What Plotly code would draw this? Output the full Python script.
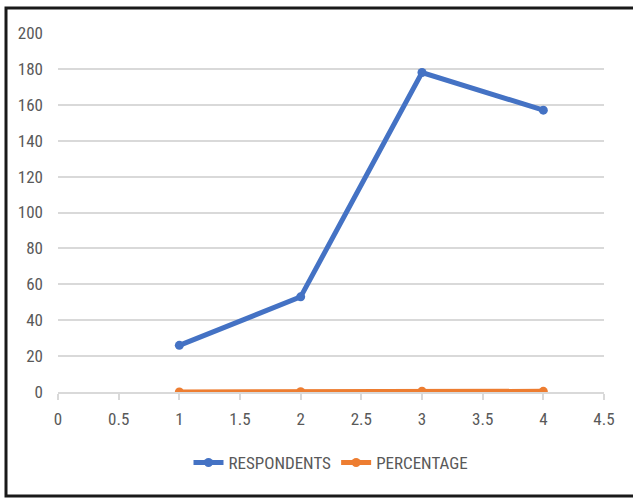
import plotly.graph_objects as go

# Survey series
x_vals = [1, 2, 3, 4]
respondents = [26, 53, 178, 157]
percentage = [0.06, 0.13, 0.43, 0.38]

x_ticks = [0, 0.5, 1, 1.5, 2, 2.5, 3, 3.5, 4, 4.5]
x_tick_text = ["0", "0.5", "1", "1.5", "2", "2.5", "3", "3.5", "4", "4.5"]
y_ticks = [0, 20, 40, 60, 80, 100, 120, 140, 160, 180, 200]

FONT = "Liberation Sans Narrow, Arial Narrow, Roboto Condensed, sans-serif"
GRAY = "#595959"

fig = go.Figure()
fig.add_trace(go.Scatter(
    x=x_vals, y=respondents, name="RESPONDENTS", mode="lines+markers",
    line=dict(color="#4472C4", width=5),
    marker=dict(color="#4472C4", size=9),
))
fig.add_trace(go.Scatter(
    x=x_vals, y=percentage, name="PERCENTAGE", mode="lines+markers",
    line=dict(color="#ED7D31", width=5),
    marker=dict(color="#ED7D31", size=9),
))

L, R, T, B = 58, 29, 33, 107
W, H = 633, 499
pw, ph = W - L - R, H - T - B


def px_x(p):
    return (p - L) / pw


def px_y(p):
    return (H - B - p) / ph


fig.update_layout(
    width=W, height=H,
    margin=dict(l=L, r=R, t=T, b=B),
    paper_bgcolor="white", plot_bgcolor="white",
    font=dict(family=FONT, size=17, color=GRAY),
    showlegend=True,
    legend=dict(
        orientation="h", x=0.5, xanchor="center", y=px_y(463), yanchor="middle",
        font=dict(family=FONT, size=17, color=GRAY),
        itemwidth=30, tracegroupgap=0,
    ),
    xaxis=dict(
        range=[0, 4.5], tickvals=x_ticks, ticktext=x_tick_text,
        showgrid=False, zeroline=False,
        showline=True, linecolor="#D9D9D9", linewidth=1.5,
        ticks="outside", ticklen=6, tickcolor="#D9D9D9", tickwidth=1.5,
        ticklabelstandoff=5,
    ),
    yaxis=dict(
        range=[0, 200], tickvals=y_ticks,
        showgrid=True, gridcolor="#D9D9D9", gridwidth=1.5,
        zeroline=False, showline=False, ticks="",
        ticklabelstandoff=14,
    ),
    shapes=[dict(
        type="rect", xref="paper", yref="paper",
        x0=px_x(6), x1=px_x(645), y0=px_y(496), y1=px_y(8),
        line=dict(color="#1a1a1a", width=3), layer="below",
    )],
)

fig.write_html("out.html")
